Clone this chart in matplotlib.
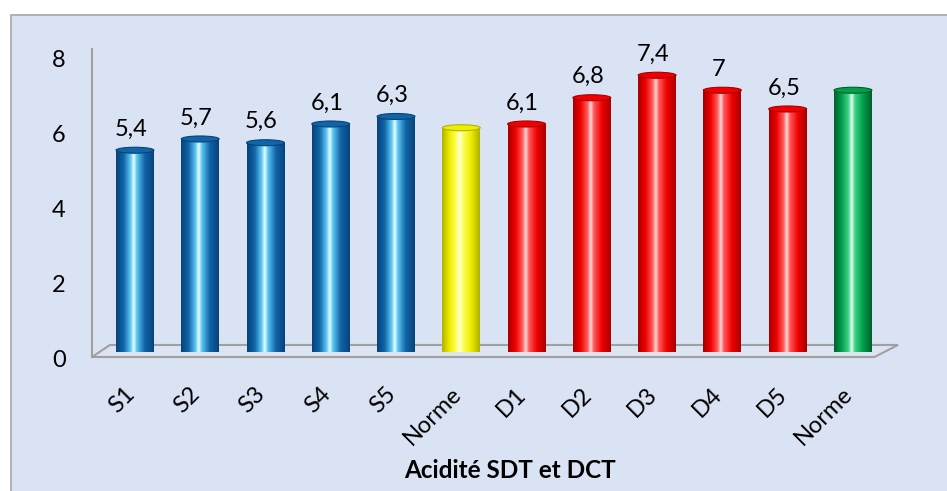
import matplotlib
matplotlib.use("Agg")
import matplotlib.pyplot as plt
import numpy as np
from matplotlib.colors import LinearSegmentedColormap
from matplotlib.patches import Ellipse, Polygon, Rectangle

labels = ["S1", "S2", "S3", "S4", "S5", "Norme",
          "D1", "D2", "D3", "D4", "D5", "Norme"]
values = [5.4, 5.7, 5.6, 6.1, 6.3, 6.0, 6.1, 6.8, 7.4, 7.0, 6.5, 7.0]
value_text = ["5,4", "5,7", "5,6", "6,1", "6,3", None,
              "6,1", "6,8", "7,4", "7", "6,5", None]
groups = ["blue"] * 5 + ["yellow"] + ["red"] * 5 + ["green"]
y_ticks = [0, 2, 4, 6, 8]

# dark edge, body, light band, centre shine
SHADES = {
    "blue": ["#074279", "#1064A8", "#5CC6F0", "#E8FFFF"],
    "red": ["#A80000", "#F00000", "#FF5A5A", "#FFDADA"],
    "yellow": ["#B0B000", "#EEEE00", "#FFFF60", "#FFFFE6"],
    "green": ["#00602C", "#00A04A", "#40D088", "#E2FFF0"],
}

plt.rcParams["font.family"] = ["Lato", "DejaVu Sans"]

fig = plt.figure(figsize=(9.47, 4.91), dpi=100)
fig.patches.append(Rectangle((11 / 947, -0.01), 1.0, 1 - 15 / 491 + 0.01,
                             transform=fig.transFigure, facecolor="#DAE3F3",
                             edgecolor="#A6A6A6", linewidth=1.2, zorder=-5))

ax = fig.add_axes([0.0950, 0.2449, 0.8553, 0.6645])
ax.set_zorder(2)
ax.set_facecolor("none")
ax.set_xlim(-0.689, 11.72)
ax.set_ylim(-0.5, 8.2)

# floor of the plot area
floor = Polygon([(-0.658, -0.133), (11.33, -0.133), (11.69, 0.187), (-0.383, 0.187)],
                closed=True, facecolor="#DCE4F2", edgecolor="#A0A0A0",
                linewidth=1.5, zorder=1)
ax.add_patch(floor)

x = np.arange(len(values))
width = 0.58
bars = ax.bar(x, values, width=width, color="none", zorder=3)

t = np.linspace(0, 1, 256)
for rect, val, grp in zip(bars, values, groups):
    dark, body, light, shine = SHADES[grp]
    cmap = LinearSegmentedColormap.from_list(
        grp, [(0, dark), (0.2, body), (0.38, light), (0.47, shine),
              (0.55, light), (0.76, body), (1, dark)])
    x0 = rect.get_x()
    img = ax.imshow(t[np.newaxis, :], cmap=cmap, aspect="auto",
                    extent=[x0, x0 + width, 0, val], zorder=3,
                    interpolation="bilinear")
    img.set_clip_path(rect)
    cap = Ellipse((x0 + width / 2, val - 0.02), width, 0.16,
                  facecolor=body, edgecolor=dark, linewidth=0.8, zorder=4)
    ax.add_patch(cap)

for xi, val, txt in zip(x, values, value_text):
    if txt is None:
        continue
    ax.annotate(txt, (xi - 0.06, val), xytext=(0, 10), textcoords="offset points",
                ha="center", va="baseline", fontsize=17, color="black")

# labels sit on the front edge of the floor, a bit left of the bar axis
ax.set_xticks(x - 0.17)
ax.set_xticklabels(labels, rotation=45, ha="right", rotation_mode="anchor",
                   fontsize=17)
ax.tick_params(axis="x", length=0, pad=9)
ax.set_yticks(np.array(y_ticks) - 0.17)
ax.set_yticklabels([str(v) for v in y_ticks])
ax.tick_params(axis="y", length=0, pad=19, labelsize=17)

for side in ["top", "right", "bottom"]:
    ax.spines[side].set_visible(False)
ax.spines["left"].set_bounds(-0.133, 8.08)
ax.spines["left"].set_color("#A0A0A0")
ax.spines["left"].set_linewidth(1.5)
ax.spines["left"].set_position(("data", -0.658))

fig.text(510 / 947, 1 - 470 / 491, "Acidité SDT et DCT", ha="center",
         va="center", fontsize=17.5, fontweight="bold")

fig.savefig("out.png", dpi=100)
